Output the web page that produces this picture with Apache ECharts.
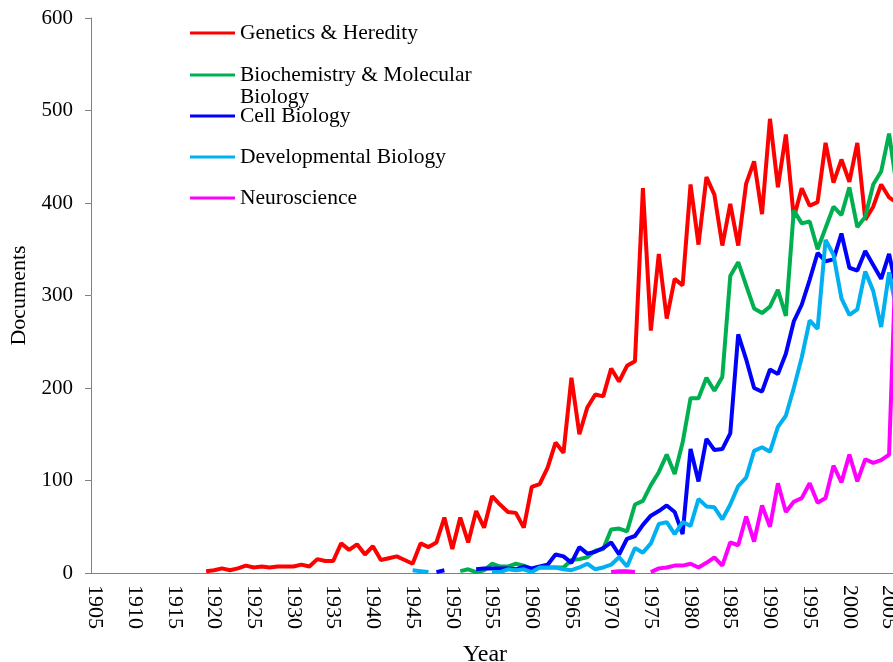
<!DOCTYPE html>
<html><head><meta charset="utf-8">
<script src="https://cdn.jsdelivr.net/npm/echarts@6/dist/echarts.min.js"></script>
<style>html,body{margin:0;padding:0;background:#fff;overflow:hidden}#c{width:893px;height:662px}</style>
</head><body><div id="c"></div>
<script>
// Category years (x axis)
const firstYear = 1905, lastYear = 2006;
const years = [];
for (let y = firstYear; y <= lastYear; y++) years.push(String(y));

const seriesNames = ['Genetics & Heredity', 'Biochemistry & Molecular Biology', 'Cell Biology', 'Developmental Biology', 'Neuroscience'];
const seriesColors = ['#FF0000', '#00B050', '#0000FF', '#00B0F0', '#FF00FF'];

// Genetics & Heredity, from 1919
const geneticsStart = 1919;
const geneticsValues = [2,3,5,3,5,8,6,7,6,7,7,7,9,7,15,13,13,32,25,31,20,29,14,16,18,14,10,32,28,33,60,26,60,33,67,49,83,74,66,65,49,93,96,114,141,130,211,150,179,193,191,221,207,224,229,416,262,345,275,318,311,420,355,428,409,354,399,354,421,445,388,491,417,474,384,416,397,401,465,422,447,423,465,382,396,420,406,400];

// Biochemistry & Molecular Biology, from 1951
const biochemStart = 1951;
const biochemValues = [2,4,1,3,10,7,7,10,8,4,6,6,6,6,14,15,17,24,26,47,48,45,74,78,95,109,128,107,141,189,189,211,197,212,321,336,311,286,281,288,306,278,392,378,380,350,373,396,387,417,374,385,420,434,475,415];

// Cell Biology, from 1948
const cellStart = 1948;
const cellValues = [1,3,null,null,null,4,5,5,5,5,4,7,5,7,9,20,18,11,28,21,23,27,33,20,37,40,52,62,67,73,66,42,134,99,145,133,134,151,258,231,200,196,220,215,237,272,290,317,346,337,339,367,330,327,348,333,318,345,304];

// Developmental Biology, from 1945
const devStart = 1945;
const devValues = [3,2,1,null,null,null,null,null,null,null,1,1,4,3,4,1,6,6,6,4,3,6,10,4,6,9,17,7,27,22,32,53,55,42,55,51,80,72,71,58,74,94,103,132,136,131,158,170,200,233,273,264,360,344,297,279,285,326,305,266,325,281];

// Neuroscience, from 1970
const neuroStart = 1970;
const neuroValues = [1,2,2,1,null,1,5,6,8,8,10,6,11,17,8,33,30,61,34,73,50,97,66,77,81,97,76,81,116,98,128,99,123,119,122,128,380];

function align(start, values) {
  return years.map(y => {
    const i = Number(y) - start;
    return (i >= 0 && i < values.length) ? values[i] : null;
  });
}
const table = [
  align(geneticsStart, geneticsValues),
  align(biochemStart, biochemValues),
  align(cellStart, cellValues),
  align(devStart, devValues),
  align(neuroStart, neuroValues)
];

const FONT = 'Liberation Serif';
const legendCenters = [33, 75, 116, 157, 198];
const LH = 22;

const chart = echarts.init(document.getElementById('c'), null, {renderer: 'canvas'});
chart.setOption({
  animation: false,
  backgroundColor: '#ffffff',
  grid: {left: 91, top: 18, height: 555, width: 810, containLabel: false, outerBoundsMode: 'none'},
  legend: seriesNames.map((n, i) => ({
    data: [n],
    left: 190,
    top: legendCenters[i] - (i === 1 ? 1.5 * LH : LH / 2),
    padding: 0,
    icon: 'rect',
    itemWidth: 45,
    itemHeight: 3,
    selectedMode: false,
    formatter: i === 1 ? ' \nBiochemistry & Molecular\nBiology' : '{name}',
    textStyle: {fontFamily: FONT, fontSize: 21.5, lineHeight: LH, color: '#000'}
  })),
  xAxis: {
    type: 'category',
    data: years,
    boundaryGap: true,
    axisLine: {lineStyle: {color: '#808080', width: 1}},
    axisTick: {interval: 4, length: 6, lineStyle: {color: '#808080'}},
    axisLabel: {interval: 4, rotate: -90, margin: 12, fontFamily: FONT, fontSize: 22, color: '#000'},
    name: 'Year',
    nameLocation: 'middle',
    nameGap: 70,
    nameTextStyle: {fontFamily: FONT, fontSize: 24, color: '#000', padding: [0, 22, 0, 0]}
  },
  yAxis: {
    type: 'value',
    min: 0, max: 600, interval: 100,
    axisLine: {show: true, lineStyle: {color: '#808080', width: 1}},
    axisTick: {show: true, length: 6, lineStyle: {color: '#808080'}},
    splitLine: {show: false},
    axisLabel: {margin: 18, fontFamily: FONT, fontSize: 21, color: '#000'},
    name: 'Documents',
    nameLocation: 'middle',
    nameGap: 57,
    nameTextStyle: {fontFamily: FONT, fontSize: 22, color: '#000'}
  },
  series: seriesNames.map((n, i) => ({
    name: n,
    type: 'line',
    data: table[i],
    showSymbol: false,
    symbol: 'none',
    connectNulls: false,
    color: seriesColors[i],
    lineStyle: {width: 4, color: seriesColors[i]}
  }))
});
</script>
</body></html>
